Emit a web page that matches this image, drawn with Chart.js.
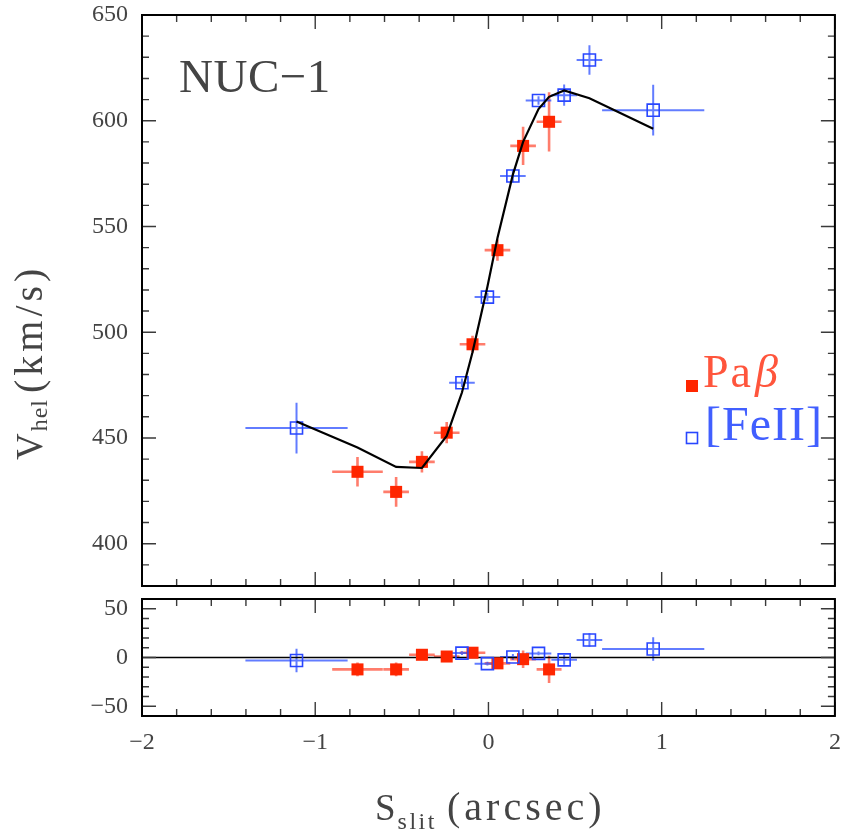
<!DOCTYPE html>
<html><head><meta charset="utf-8">
<script src="https://cdn.jsdelivr.net/npm/chart.js@4"></script>
<style>
html,body{margin:0;padding:0;background:#fff;}
#wrap{position:relative;width:845px;height:833px;overflow:hidden;background:#fff;}
canvas{position:absolute;left:0;top:0;}
</style></head><body>
<div id="wrap"><canvas id="c1" width="845" height="833"></canvas><canvas id="c2" width="845" height="833"></canvas></div>
<script>
// ---- data ----
const paX    = [-0.756, -0.533, -0.384, -0.241, -0.092, 0.052, 0.200, 0.350];
const paV    = [434.0, 424.5, 438.7, 452.5, 494.3, 538.8, 588.1, 599.5];
const paXerr = [0.146, 0.074, 0.074, 0.074, 0.074, 0.074, 0.074, 0.072];
const paVerr = [7, 7, 5, 5, 4, 5, 9, 14];
const paRes  = [-12.2, -12.2, 2.8, 1.0, 4.9, -6.0, -1.7, -12.2];

const feX    = [-1.108, -0.153, -0.006, 0.141, 0.289, 0.437, 0.583, 0.951];
const feV    = [454.7, 476.1, 516.6, 573.9, 609.6, 612.1, 628.7, 605.0];
const feXerr = [0.295, 0.074, 0.074, 0.074, 0.074, 0.074, 0.074, 0.295];
const feVerr = [12, 2, 2, 3, 2, 5, 7, 12];
const feRes  = [-3.1, 4.5, -6.3, 0.5, 4.2, -2.4, 18.0, 8.7];

const modelX = [-1.108, -0.756, -0.533, -0.384, -0.241, -0.153, -0.092, -0.006, 0.052, 0.141, 0.200, 0.289, 0.350, 0.437, 0.583, 0.951];
const modelV = [457.8, 445.5, 436.3, 435.8, 451.0, 471.5, 490.5, 521.5, 544.5, 574.5, 590.0, 605.5, 611.3, 614.3, 610.6, 596.2];

const xTicks = [-2, -1, 0, 1, 2];
const yTicksMain = [400, 450, 500, 550, 600, 650];
const yTicksRes = [-50, 0, 50];

// ---- styling ----
const FONT = "'Liberation Serif', serif";
const RED = 'rgb(255,38,0)';
const RED_ERR = 'rgba(255,70,45,0.7)';
const BLUE = 'rgb(40,70,255)';
const BLUE_ERR = 'rgba(45,80,255,0.75)';
const TXT = '#444';
const minus = v => String(v).replace('-', '\u2212');

function pts(xs, ys){ return xs.map((x,i)=>({x:x, y:ys[i]})); }
function noPadX(s){ s.paddingLeft = 0; s.paddingRight = 0; }
function noPadY(s){ s.paddingTop = 0; s.paddingBottom = 0; }

const errorBars = {
  id: 'errorBars',
  beforeDatasetsDraw(chart){
    const {ctx, scales:{x:xs, y:ys}} = chart;
    ctx.save();
    chart.data.datasets.forEach(ds => {
      if (!ds.errX) return;
      ctx.strokeStyle = ds.errColor; ctx.lineWidth = ds.errWidth;
      ds.data.forEach((p,i) => {
        const px = xs.getPixelForValue(p.x), py = ys.getPixelForValue(p.y);
        ctx.beginPath();
        ctx.moveTo(xs.getPixelForValue(p.x - ds.errX[i]), py);
        ctx.lineTo(xs.getPixelForValue(p.x + ds.errX[i]), py);
        ctx.moveTo(px, ys.getPixelForValue(p.y - ds.errY[i]));
        ctx.lineTo(px, ys.getPixelForValue(p.y + ds.errY[i]));
        ctx.stroke();
      });
    });
    ctx.restore();
  }
};

function frameTicks(yMin, yMax){
  return {
    id: 'frameTicks',
    afterDraw(chart){
      const {ctx, chartArea:a, scales:{x:xs, y:ys}} = chart;
      ctx.save();
      ctx.strokeStyle = '#3a3a3a'; ctx.lineWidth = 1.4;
      ctx.beginPath();
      for (let i = 0; i <= 20; i++){
        const v = -2 + i*0.2, px = xs.getPixelForValue(v), len = (i%5===0) ? 14 : 7;
        ctx.moveTo(px, a.bottom); ctx.lineTo(px, a.bottom - len);
        ctx.moveTo(px, a.top); ctx.lineTo(px, a.top + len);
      }
      for (let v = yMin; v <= yMax; v += 10){
        const py = ys.getPixelForValue(v), len = (v%50===0) ? 14 : 7;
        ctx.moveTo(a.left, py); ctx.lineTo(a.left + len, py);
        ctx.moveTo(a.right, py); ctx.lineTo(a.right - len, py);
      }
      ctx.stroke();
      ctx.strokeStyle = '#000'; ctx.lineWidth = 2;
      ctx.strokeRect(a.left, a.top, a.right - a.left, a.bottom - a.top);
      ctx.restore();
    }
  };
}

function txt(ctx, s, x, y, size, opts){
  opts = opts || {};
  ctx.font = (opts.italic ? 'italic ' : '') + size + 'px ' + FONT;
  ctx.letterSpacing = (opts.ls || 0) + 'px';
  ctx.fillText(s, x, y);
  return ctx.measureText(s).width;
}

const labels = {
  id: 'labels',
  afterDraw(chart){
    const ctx = chart.ctx;
    ctx.save();
    ctx.textBaseline = 'alphabetic'; ctx.textAlign = 'left';
    // panel label
    ctx.fillStyle = '#444';
    txt(ctx, 'NUC\u22121', 179, 92, 47, {ls:0.5});
    // legend
    ctx.fillStyle = RED; ctx.fillRect(686, 380, 12, 12);
    ctx.strokeStyle = BLUE; ctx.lineWidth = 1.6; ctx.strokeRect(686.5, 432.5, 11, 11);
    ctx.fillStyle = 'rgb(255,85,60)';
    let w = txt(ctx, 'Pa', 703, 387, 46, {ls:2});
    txt(ctx, '\u03b2', 703 + w + 2, 387, 46, {italic:true});
    ctx.fillStyle = 'rgb(65,95,255)';
    txt(ctx, '[FeII]', 705, 440, 48, {ls:1});
    // y title (rotated)
    ctx.fillStyle = TXT;
    ctx.save();
    ctx.translate(42, 460); ctx.rotate(-Math.PI/2);
    w = txt(ctx, 'V', 0, 0, 37, {ls:1});
    txt(ctx, 'hel', w + 1, 5, 24, {ls:1});
    txt(ctx, '(km/s)', 67, 0, 40, {ls:4});
    ctx.restore();
    // x title
    w = txt(ctx, 'S', 375, 820, 37, {ls:1});
    txt(ctx, 'slit', 375 + w + 1, 829, 24, {ls:2.5});
    txt(ctx, '(arcsec)', 447, 820, 40, {ls:4});
    ctx.restore();
  }
};

Chart.defaults.font.family = FONT;

new Chart(document.getElementById('c1'), {
  type: 'scatter',
  data: { datasets: [
    { type:'line', data: pts(modelX, modelV), borderColor:'#000', borderWidth:2.2, pointRadius:0, fill:false, tension:0, order:0 },
    { data: pts(paX, paV), errX: paXerr, errY: paVerr, errColor: RED_ERR, errWidth: 2.6,
      pointStyle:'rect', pointRadius:8.5, backgroundColor: RED, borderColor: RED, borderWidth:0, order:2 },
    { data: pts(feX, feV), errX: feXerr, errY: feVerr, errColor: BLUE_ERR, errWidth: 2,
      pointStyle:'rect', pointRadius:8.5, backgroundColor:'rgba(0,0,0,0)', borderColor: BLUE, borderWidth:1.6, order:1 }
  ]},
  options: {
    responsive:false, animation:false, devicePixelRatio:1,
    layout:{ padding:{ left:0, top:15, right:5, bottom:247 } },
    plugins:{ legend:{display:false}, tooltip:{enabled:false} },
    scales:{
      x:{ type:'linear', min:-2, max:2, display:false, afterFit: noPadX },
      y:{ type:'linear', min:380, max:650,
          afterFit(s){ s.width = 142; noPadY(s); },
          afterBuildTicks(s){ s.ticks = yTicksMain.map(v=>({value:v})); },
          grid:{ display:false, drawTicks:false }, border:{ display:false },
          ticks:{ padding:14, color:TXT, font:{ size:24, family:FONT }, callback:v=>minus(v) } }
    }
  },
  plugins:[errorBars, frameTicks(380, 650)]
});

new Chart(document.getElementById('c2'), {
  type: 'scatter',
  data: { datasets: [
    { data: pts(paX, paRes), errX: paXerr, errY: paVerr, errColor: RED_ERR, errWidth: 2.6,
      pointStyle:'rect', pointRadius:8.5, backgroundColor: RED, borderColor: RED, borderWidth:0, order:1 },
    { data: pts(feX, feRes), errX: feXerr, errY: feVerr, errColor: BLUE_ERR, errWidth: 2,
      pointStyle:'rect', pointRadius:8.5, backgroundColor:'rgba(0,0,0,0)', borderColor: BLUE, borderWidth:1.6, order:0 },
    { type:'line', data: pts([-2, 2], [0, 0]), borderColor:'#000', borderWidth:1.6, pointRadius:0, fill:false, order:3 }
  ]},
  options: {
    responsive:false, animation:false, devicePixelRatio:1,
    layout:{ padding:{ left:0, top:599, right:5, bottom:0 } },
    plugins:{ legend:{display:false}, tooltip:{enabled:false} },
    scales:{
      x:{ type:'linear', min:-2, max:2, position:'bottom',
          afterFit(s){ s.height = 117; noPadX(s); },
          afterBuildTicks(s){ s.ticks = xTicks.map(v=>({value:v})); },
          grid:{ display:false, drawTicks:false }, border:{ display:false },
          ticks:{ padding:12, color:TXT, font:{ size:24, family:FONT }, maxRotation:0, callback:v=>minus(v) } },
      y:{ type:'linear', min:-60, max:60,
          afterFit(s){ s.width = 142; noPadY(s); },
          afterBuildTicks(s){ s.ticks = yTicksRes.map(v=>({value:v})); },
          grid:{ display:false, drawTicks:false }, border:{ display:false },
          ticks:{ padding:14, color:TXT, font:{ size:24, family:FONT }, callback:v=>minus(v) } }
    }
  },
  plugins:[errorBars, frameTicks(-60, 60), labels]
});
</script>
</body></html>
